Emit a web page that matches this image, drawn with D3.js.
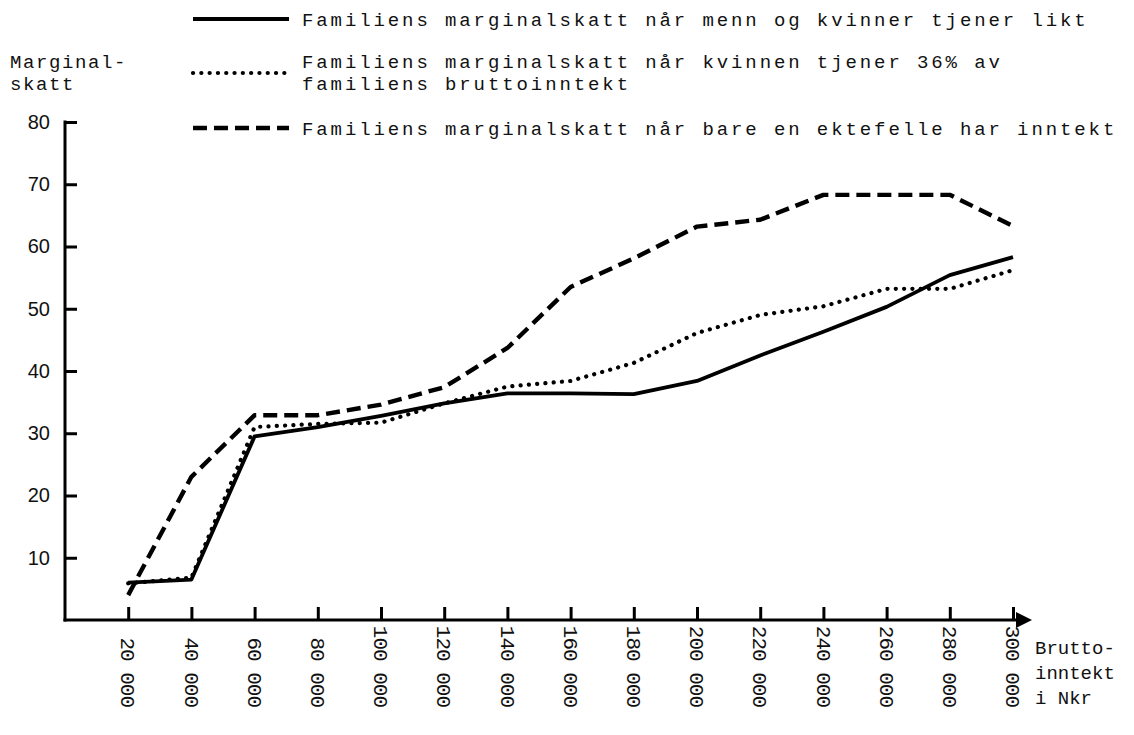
<!DOCTYPE html>
<html>
<head>
<meta charset="utf-8">
<script src="https://cdn.jsdelivr.net/npm/d3@7/dist/d3.min.js"></script>
<style>
  html, body { margin: 0; padding: 0; background: #fff; }
  svg { display: block; }
</style>
</head>
<body>
<svg id="chart" width="1134" height="735"></svg>
<script>
// ---- data ----
const incomes = [20000, 40000, 60000, 80000, 100000, 120000, 140000, 160000, 180000, 200000, 220000, 240000, 260000, 280000, 300000];
const xTickLabels = ["20 000", "40 000", "60 000", "80 000", "100 000", "120 000", "140 000", "160 000", "180 000", "200 000", "220 000", "240 000", "260 000", "280 000", "300 000"];
const yTicks = [10, 20, 30, 40, 50, 60, 70, 80];
const equalEarners = [6.0, 6.5, 29.5, 31.0, 32.8, 34.8, 36.4, 36.4, 36.3, 38.4, 42.5, 46.3, 50.3, 55.4, 58.3];
const woman36 = [5.9, 6.8, 31.0, 31.5, 31.7, 34.8, 37.5, 38.4, 41.3, 46.1, 49.0, 50.4, 53.2, 53.2, 56.2];
const oneEarner = [4.0, 23.0, 32.9, 32.9, 34.6, 37.4, 43.7, 53.5, 58.1, 63.2, 64.3, 68.3, 68.3, 68.3, 63.3];
const legendLabels = [
  ["Familiens marginalskatt når menn og kvinner tjener likt"],
  ["Familiens marginalskatt når kvinnen tjener 36% av", "familiens bruttoinntekt"],
  ["Familiens marginalskatt når bare en ektefelle har inntekt"]
];
const yTitle = ["Marginal-", "skatt"];
const xTitle = ["Brutto-", "inntekt", "i Nkr"];

// ---- layout ----
const svg = d3.select("#chart");
const mono = "'Liberation Mono', 'DejaVu Sans Mono', monospace";
const sans = "'Liberation Sans', Arial, sans-serif";
const x = d3.scaleLinear().domain([0, 300000]).range([65, 1013]);
const y = d3.scaleLinear().domain([0, 80]).range([620, 122]);

const styles = [
  { data: equalEarners, dash: null, width: 3.8, cap: "butt" },
  { data: woman36, dash: "0.1 8.2", width: 4.2, cap: "round" },
  { data: oneEarner, dash: "14 7", width: 4.4, cap: "butt" }
];

// axes
const yAxis = d3.axisLeft(y).tickValues(yTicks).tickSize(-12).tickFormat(d3.format("d"));
const gy = svg.append("g").attr("transform", `translate(${x(0)},0)`).call(yAxis);
gy.select(".domain").remove();
gy.selectAll(".tick line").attr("stroke", "#000").attr("stroke-width", 3);
gy.selectAll(".tick text").attr("x", -15).attr("font-family", sans).attr("font-size", 20).attr("fill", "#111");
svg.append("line").attr("x1", x(0)).attr("x2", x(0)).attr("y1", y(80) - 1.5).attr("y2", y(0) + 1.5)
  .attr("stroke", "#000").attr("stroke-width", 3);

const xAxis = d3.axisBottom(x).tickValues(incomes).tickSize(-13).tickFormat((d, i) => xTickLabels[i]);
const gx = svg.append("g").attr("transform", `translate(0,${y(0)})`).call(xAxis);
gx.select(".domain").remove();
gx.selectAll(".tick line").attr("stroke", "#000").attr("stroke-width", 3);
gx.selectAll(".tick text")
  .attr("font-family", mono).attr("font-size", 21).attr("letter-spacing", -1).attr("fill", "#111")
  .attr("text-anchor", "end")
  .attr("transform", "translate(0,87) rotate(90)")
  .attr("x", 0).attr("y", 0).attr("dy", "0.35em");
svg.append("line").attr("x1", x(0) - 1.5).attr("x2", 1020).attr("y1", y(0)).attr("y2", y(0))
  .attr("stroke", "#000").attr("stroke-width", 3);
svg.append("path").attr("d", `M1016,${y(0) - 8} L1032,${y(0)} L1016,${y(0) + 8} Z`).attr("fill", "#000");

// lines
const line = d3.line().x((d, i) => x(incomes[i])).y(d => y(d));
styles.forEach(s => {
  svg.append("path").datum(s.data).attr("d", line)
    .attr("fill", "none").attr("stroke", "#000")
    .attr("stroke-width", s.width)
    .attr("stroke-linecap", s.cap)
    .attr("stroke-linejoin", "round")
    .attr("stroke-dasharray", s.dash);
});

// legend
const legendY = [19, 73, 128];
const legendTextY = [[19], [61, 83], [128]];
styles.forEach((s, i) => {
  svg.append("line").attr("x1", 193).attr("x2", 289).attr("y1", legendY[i]).attr("y2", legendY[i])
    .attr("stroke", "#000").attr("stroke-width", s.width).attr("stroke-linecap", s.cap)
    .attr("stroke-dasharray", s.dash);
  legendLabels[i].forEach((t, j) => {
    svg.append("text").attr("x", 302).attr("y", legendTextY[i][j]).attr("dy", "0.35em")
      .attr("font-family", mono).attr("font-size", 19).attr("letter-spacing", 2.9)
      .attr("fill", "#111").text(t);
  });
});

// axis titles
yTitle.forEach((t, j) => {
  svg.append("text").attr("x", 10).attr("y", 61 + j * 22).attr("dy", "0.35em")
    .attr("font-family", mono).attr("font-size", 19).attr("letter-spacing", 1.6)
    .attr("fill", "#111").text(t);
});
xTitle.forEach((t, j) => {
  svg.append("text").attr("x", 1035).attr("y", 647 + j * 25).attr("dy", "0.35em")
    .attr("font-family", mono).attr("font-size", 19).attr("fill", "#111").text(t);
});
</script>
</body>
</html>
